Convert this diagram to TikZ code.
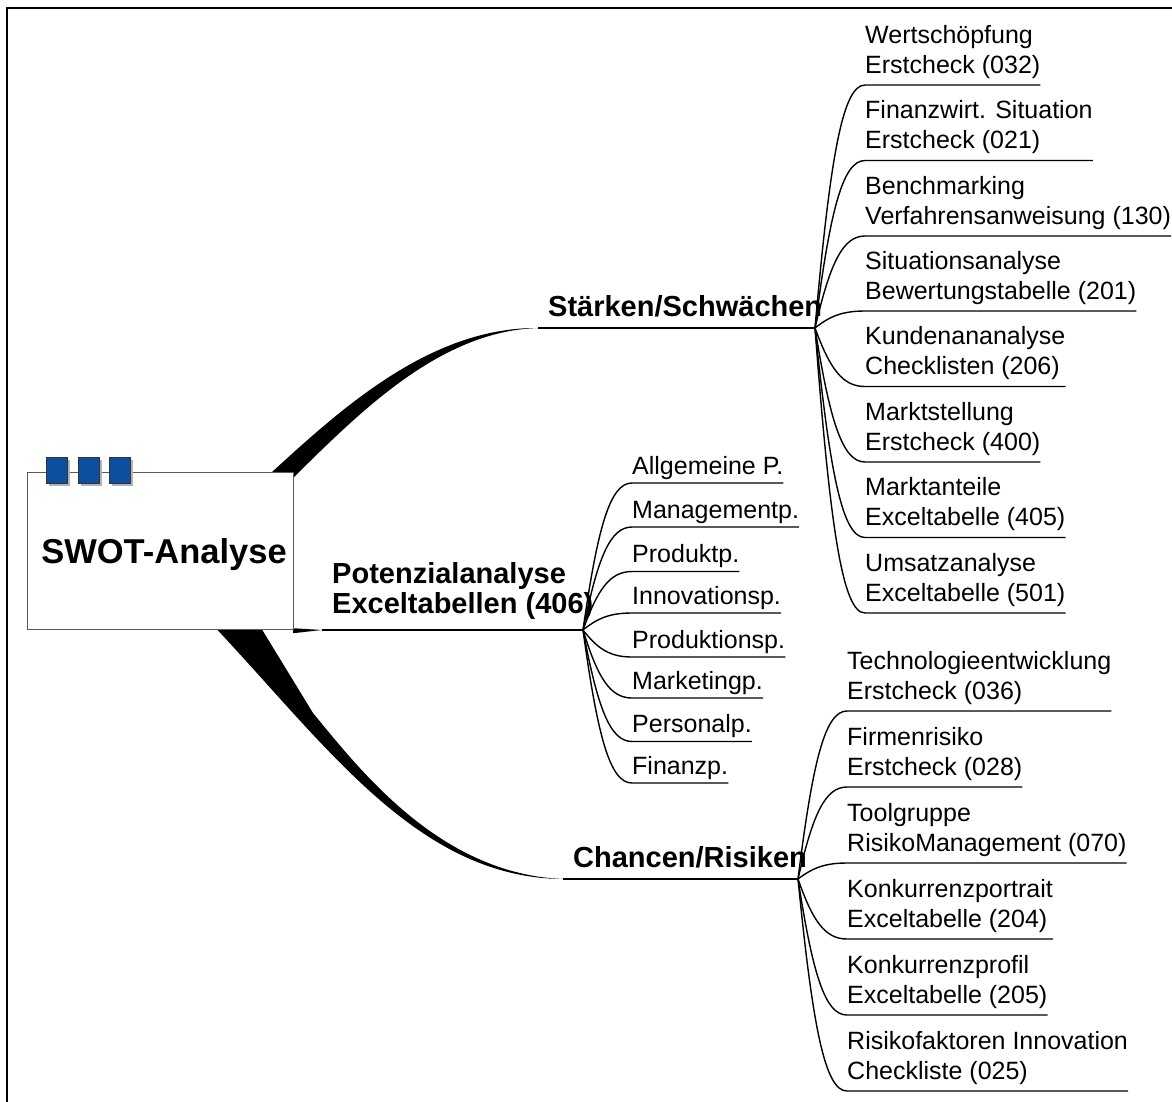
\documentclass[tikz,border=0pt]{standalone}
\usepackage{fontspec}
\setmainfont{Liberation Sans}
\usepackage{tikz}
\usetikzlibrary{positioning,calc,shadows,backgrounds}
\usepackage{xcolor}
\definecolor{swotblue}{RGB}{12,78,160}

% leaf connector: curve from hub into the underline of a leaf
\newcommand{\twig}[2]{%
  \draw[twigline] let \p1=(#1), \p2=(#2.south west) in
    (\p1) .. controls ({\x1+0.3*(\x2-\x1)},{\y1+0.7*(\y2-\y1)})
    and ({\x1+0.55*(\x2-\x1)},\y2) .. (\p2) -- (#2.south east);}

\begin{document}
\begin{tikzpicture}[
    x=1pt, y=-1pt,
    root/.style={rectangle, draw=black!65, fill=white, minimum width=266pt, minimum height=157pt, text height=25pt, text depth=0pt, font=\bfseries\fontsize{34.5pt}{40pt}\selectfont},
    tab/.style={rectangle, draw=black!80, fill=swotblue, minimum width=21pt, minimum height=26pt, inner sep=0pt, drop shadow={shadow xshift=3pt, shadow yshift=-3pt, fill=black!30, opacity=1}},
    branch/.style={anchor=south west, inner sep=0pt, align=left, text depth=11pt, font=\bfseries\fontsize{29pt}{30pt}\selectfont},
    leaf/.style={anchor=south west, inner sep=0pt, align=left, text depth=11.5pt, font=\fontsize{25pt}{30pt}\selectfont},
    pleaf/.style={leaf, text depth=8.5pt},
    twigline/.style={line width=1.4pt},
    stem/.style={line width=1.8pt}
]
    \useasboundingbox (0,0) rectangle (1172,1101);

    % Root
    \node[root] (swot) at (160,550.5) {\hspace*{8pt}SWOT-Analyse};
    \node[tab] (sq1) at ($(swot.north west)+(30,-2)$) {};
    \node[tab, right=10pt of sq1] (sq2) {};
    \node[tab, right=10pt of sq2] (sq3) {};

    % Hubs
    \coordinate (tipS) at (538,328);
    \coordinate (hubS) at (815,328);
    \coordinate (tipP) at (322,630);
    \coordinate (hubP) at (583,630);
    \coordinate (tipC) at (563,879);
    \coordinate (hubC) at (798,879);

    % Frame and main branches
    \begin{scope}[on background layer]
        \draw[line width=2.2pt] (1180,8) -- (7,8) -- (7,1110);
        \fill ($(swot.north east)+(-21,0)$) .. controls (340,410) and (430,327) .. (tipS)
            .. controls (440,331) and (360,412) .. ($(swot.north east)+(0,6)$) -- cycle;
        \fill ($(swot.south east)+(0,-1)$) -- (tipP) -- ($(swot.south east)+(0,4)$) -- cycle;
        \fill ($(swot.south west)+(190,0)$) .. controls (330,750) and (420,878) .. (tipC)
            .. controls (440,874) and (360,770) .. (313,713) -- ($(swot.south west)+(235,0)$) -- cycle;
    \end{scope}
    \draw[stem] (tipS) -- (hubS);
    \draw[stem] (tipP) -- (hubP);
    \draw[stem] (tipC) -- (hubC);

    % Branch labels
    \node[branch] (lblS) at (548,328) {Stärken/Schwächen};
    \node[branch, text depth=16pt] (lblP) at (332,630) {Potenzialanalyse\\Exceltabellen (406)};
    \node[branch] (lblC) at (573,879) {Chancen/Risiken};

    % Stärken/Schwächen
    \node[leaf] (s1) at (865,85) {Wertschöpfung\\Erstcheck (032)};
    \node[leaf] (s2) at (865,160.5) {Finanzwirt. Situation\\Erstcheck (021)};
    \node[leaf] (s3) at (865,236) {Benchmarking\\Verfahrensanweisung (130)};
    \node[leaf] (s4) at (865,311) {Situationsanalyse\\Bewertungstabelle (201)};
    \node[leaf] (s5) at (865,386.5) {Kundenananalyse\\Checklisten (206)};
    \node[leaf] (s6) at (865,462) {Marktstellung\\Erstcheck (400)};
    \node[leaf] (s7) at (865,537.5) {Marktanteile\\Exceltabelle (405)};
    \node[leaf] (s8) at (865,613) {Umsatzanalyse\\Exceltabelle (501)};

    % Potenzialanalyse
    \node[pleaf] (p1) at (632,483) {Allgemeine P.};
    \node[pleaf] (p2) at (632,527) {Managementp.};
    \node[pleaf] (p3) at (632,571.5) {Produktp.};
    \node[pleaf] (p4) at (632,613) {Innovationsp.};
    \node[pleaf] (p5) at (632,657) {Produktionsp.};
    \node[pleaf] (p6) at (632,698) {Marketingp.};
    \node[pleaf] (p7) at (632,741.5) {Personalp.};
    \node[pleaf] (p8) at (632,783) {Finanzp.};

    % Chancen/Risiken
    \node[leaf] (c1) at (847,711) {Technologieentwicklung\\Erstcheck (036)};
    \node[leaf] (c2) at (847,787) {Firmenrisiko\\Erstcheck (028)};
    \node[leaf] (c3) at (847,863) {Toolgruppe\\RisikoManagement (070)};
    \node[leaf] (c4) at (847,939) {Konkurrenzportrait\\Exceltabelle (204)};
    \node[leaf] (c5) at (847,1015) {Konkurrenzprofil\\Exceltabelle (205)};
    \node[leaf] (c6) at (847,1091) {Risikofaktoren Innovation\\Checkliste (025)};

    % Twigs
    \twig{hubS}{s1} \twig{hubS}{s2} \twig{hubS}{s3} \twig{hubS}{s4}
    \twig{hubS}{s5} \twig{hubS}{s6} \twig{hubS}{s7} \twig{hubS}{s8}
    \twig{hubP}{p1} \twig{hubP}{p2} \twig{hubP}{p3} \twig{hubP}{p4}
    \twig{hubP}{p5} \twig{hubP}{p6} \twig{hubP}{p7} \twig{hubP}{p8}
    \twig{hubC}{c1} \twig{hubC}{c2} \twig{hubC}{c3}
    \twig{hubC}{c4} \twig{hubC}{c5} \twig{hubC}{c6}
\end{tikzpicture}
\end{document}
